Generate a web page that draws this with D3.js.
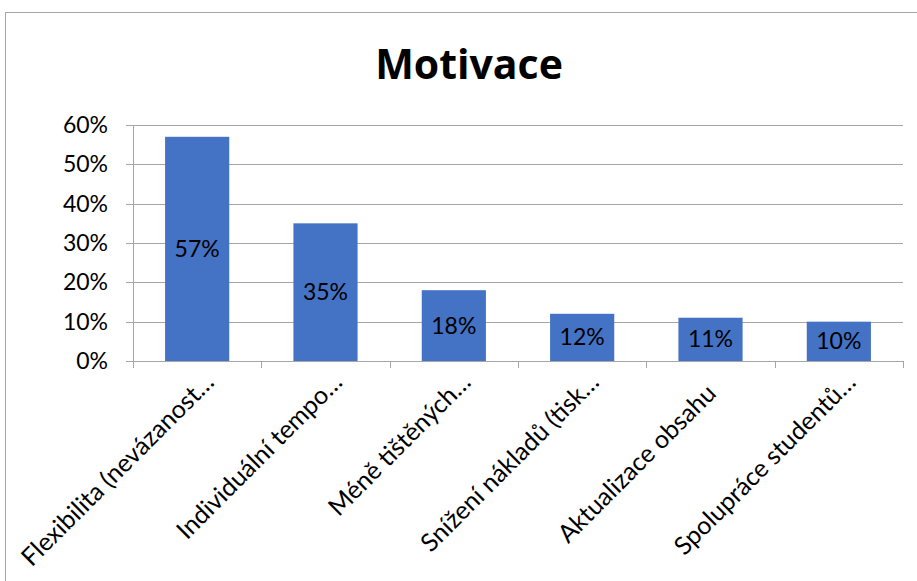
<!DOCTYPE html>
<html>
<head>
<meta charset="utf-8">
<script src="https://cdn.jsdelivr.net/npm/d3@7"></script>
<style>
  body { margin: 0; background: #fff; }
  svg { font-family: Lato, "Open Sans", sans-serif; }
</style>
</head>
<body>
<svg id="chart" width="917" height="581"></svg>
<script>
const categories = [
	"Flexibilita (nevázanost…",
	"Individuální tempo…",
	"Méně tištěných…",
	"Snížení nákladů (tisk…",
	"Aktualizace obsahu",
	"Spolupráce studentů…"
];
const values = [0.57, 0.35, 0.18, 0.12, 0.11, 0.10];
const yTicks = [0, 0.1, 0.2, 0.3, 0.4, 0.5, 0.6];

const svg = d3.select("#chart");
const margin = {top: 125, right: 14, bottom: 220, left: 133};
const width = 917 - margin.left - margin.right;
const height = 581 - margin.top - margin.bottom;

// chart frame
svg.append("rect")
	.attr("x", 5.5).attr("y", 12.5)
	.attr("width", 930).attr("height", 600)
	.attr("fill", "none")
	.attr("stroke", "#a6a6a6");

svg.append("text")
	.attr("x", 469).attr("y", 79)
	.attr("text-anchor", "middle")
	.attr("font-family", "'Open Sans', sans-serif")
	.attr("font-size", "41px")
	.attr("font-weight", "bold")
	.text("Motivace");

const g = svg.append("g").attr("transform", `translate(${margin.left}, ${margin.top})`);

const x = d3.scaleBand().domain(categories).range([0, width]).paddingInner(0.5).paddingOuter(0.25);
const y = d3.scaleLinear().domain([0, 0.6]).range([height, 0]);

// gridlines
g.selectAll(".grid")
	.data(yTicks)
	.enter()
	.append("line")
	.attr("x1", -7).attr("x2", width)
	.attr("y1", d => Math.round(y(d)) + 0.5)
	.attr("y2", d => Math.round(y(d)) + 0.5)
	.attr("stroke", "#a6a6a6");

// y axis line
g.append("line")
	.attr("x1", 0.5).attr("x2", 0.5)
	.attr("y1", 0).attr("y2", height + 7)
	.attr("stroke", "#a6a6a6");

// category tick marks
const step = width / categories.length;
g.selectAll(".xtick")
	.data(d3.range(categories.length + 1))
	.enter()
	.append("line")
	.attr("x1", i => Math.round(i * step) + 0.5)
	.attr("x2", i => Math.round(i * step) + 0.5)
	.attr("y1", height).attr("y2", height + 7)
	.attr("stroke", "#a6a6a6");

g.selectAll(".ylabel")
	.data(yTicks)
	.enter()
	.append("text")
	.attr("x", -25)
	.attr("y", d => y(d))
	.attr("dy", "0.35em")
	.attr("text-anchor", "end")
	.attr("font-size", "23px")
	.attr("fill", "#000")
	.text(d3.format(".0%"));

g.selectAll(".bar")
	.data(values)
	.enter()
	.append("rect")
	.attr("x", (d, i) => x(categories[i]))
	.attr("y", d => y(d))
	.attr("width", x.bandwidth())
	.attr("height", d => height - y(d))
	.attr("fill", "#4472c4");

g.selectAll(".vlabel")
	.data(values)
	.enter()
	.append("text")
	.attr("x", (d, i) => x(categories[i]) + x.bandwidth() / 2)
	.attr("y", d => (y(d) + height) / 2)
	.attr("dy", "0.35em")
	.attr("text-anchor", "middle")
	.attr("font-size", "23px")
	.text(d3.format(".0%"));

// truncated labels keep some trailing room, like Excel does
g.selectAll(".xlabel")
	.data(categories)
	.enter()
	.append("text")
	.attr("transform", d => `translate(${x(d) + x.bandwidth() / 2 + 7}, ${height + 34}) rotate(-45)`)
	.attr("x", d => d.endsWith("…") ? 16 : 0)
	.attr("text-anchor", "end")
	.attr("font-size", "25px")
	.text(d => d);
</script>
</body>
</html>
